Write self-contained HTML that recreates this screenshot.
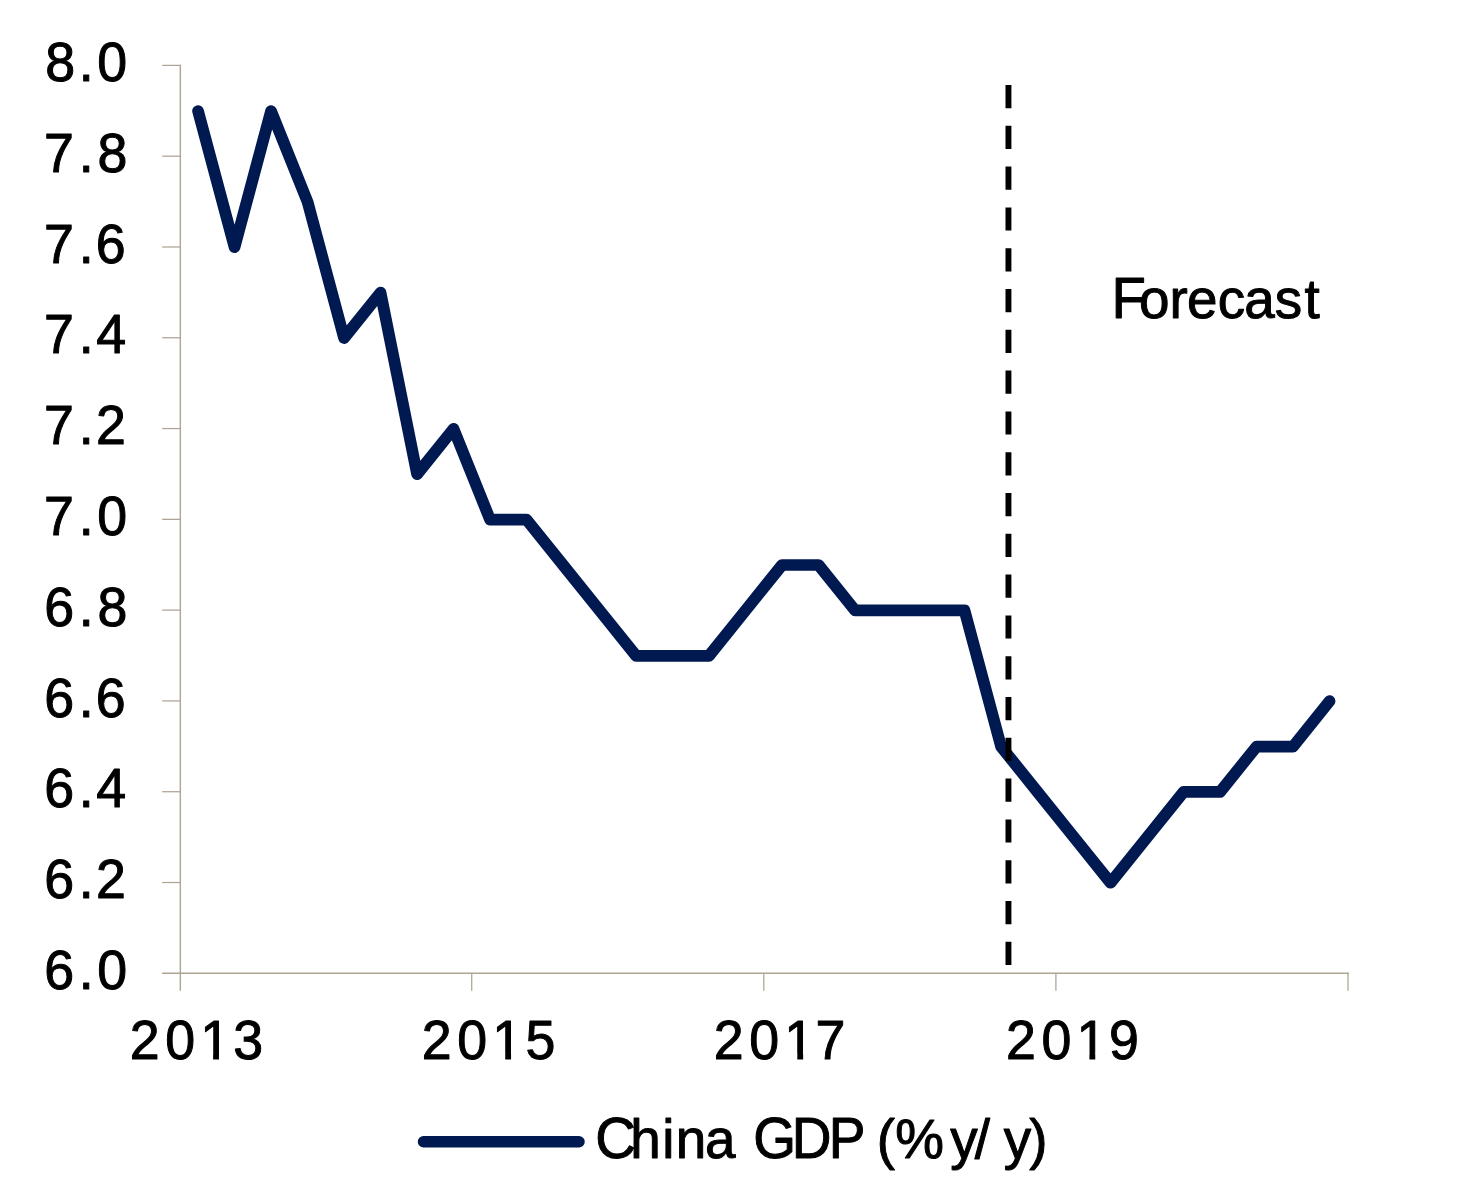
<!DOCTYPE html>
<html lang="en"><head><meta charset="utf-8"><title>China GDP (% y/y)</title>
<style>
html,body{margin:0;padding:0;background:#fff;}
body{width:1467px;height:1200px;overflow:hidden;}
svg{display:block;}
text{font-family:"Liberation Sans",Arial,sans-serif;fill:#000;stroke:#000;stroke-width:1.0px;stroke-linejoin:round;}
</style></head><body>
<svg width="1467" height="1200" viewBox="0 0 1467 1200">
<rect width="1467" height="1200" fill="#fff"/>

<g stroke="#ada493" fill="none">
<line x1="180.33" y1="64.80" x2="180.33" y2="990.8" stroke-width="1.4"/>
<line x1="162.2" y1="973.3" x2="1348.9" y2="973.3" stroke-width="1.5"/>
<line x1="162.2" y1="65.40" x2="180.3" y2="65.40" stroke-width="1.25"/>
<line x1="162.2" y1="156.19" x2="180.3" y2="156.19" stroke-width="1.25"/>
<line x1="162.2" y1="246.98" x2="180.3" y2="246.98" stroke-width="1.25"/>
<line x1="162.2" y1="337.77" x2="180.3" y2="337.77" stroke-width="1.25"/>
<line x1="162.2" y1="428.56" x2="180.3" y2="428.56" stroke-width="1.25"/>
<line x1="162.2" y1="519.35" x2="180.3" y2="519.35" stroke-width="1.25"/>
<line x1="162.2" y1="610.14" x2="180.3" y2="610.14" stroke-width="1.25"/>
<line x1="162.2" y1="700.93" x2="180.3" y2="700.93" stroke-width="1.25"/>
<line x1="162.2" y1="791.72" x2="180.3" y2="791.72" stroke-width="1.25"/>
<line x1="162.2" y1="882.51" x2="180.3" y2="882.51" stroke-width="1.25"/>
<line x1="471.70" y1="973.3" x2="471.70" y2="990.8" stroke-width="1.25"/>
<line x1="763.80" y1="973.3" x2="763.80" y2="990.8" stroke-width="1.25"/>
<line x1="1055.90" y1="973.3" x2="1055.90" y2="990.8" stroke-width="1.25"/>
<line x1="1348.00" y1="973.3" x2="1348.00" y2="990.8" stroke-width="1.25"/>
</g>
<text class="yl" transform="translate(0,81.0) scale(0.977,1)" y="0"><tspan x="46.43 80.65 99.59" font-size="55">8.0</tspan></text>
<text class="yl" transform="translate(0,171.8) scale(0.977,1)" y="0"><tspan x="45.13 80.65 99.76" font-size="55">7.8</tspan></text>
<text class="yl" transform="translate(0,262.6) scale(0.977,1)" y="0"><tspan x="45.13 80.65 98.03" font-size="55">7.6</tspan></text>
<text class="yl" transform="translate(0,353.4) scale(0.977,1)" y="0"><tspan x="45.13 80.65 98.43" font-size="55">7.4</tspan></text>
<text class="yl" transform="translate(0,444.2) scale(0.977,1)" y="0"><tspan x="45.13 80.65 98.16" font-size="55">7.2</tspan></text>
<text class="yl" transform="translate(0,535.0) scale(0.977,1)" y="0"><tspan x="45.13 80.65 99.59" font-size="55">7.0</tspan></text>
<text class="yl" transform="translate(0,625.7) scale(0.977,1)" y="0"><tspan x="45.21 80.65 99.76" font-size="55">6.8</tspan></text>
<text class="yl" transform="translate(0,716.5) scale(0.977,1)" y="0"><tspan x="45.21 80.65 98.03" font-size="55">6.6</tspan></text>
<text class="yl" transform="translate(0,807.3) scale(0.977,1)" y="0"><tspan x="45.21 80.65 98.43" font-size="55">6.4</tspan></text>
<text class="yl" transform="translate(0,898.1) scale(0.977,1)" y="0"><tspan x="45.21 80.65 98.16" font-size="55">6.2</tspan></text>
<text class="yl" transform="translate(0,988.9) scale(0.977,1)" y="0"><tspan x="45.21 80.65 99.59" font-size="55">6.0</tspan></text>
<text class="xl" transform="translate(0,1059.3) scale(0.977,1)" y="0"><tspan x="132.70 169.04 204.86 238.64" font-size="55">2013</tspan></text>
<rect x="202.24" y="1053.6" width="10.87" height="8" fill="#fff"/>
<rect x="218.96" y="1053.6" width="10.50" height="8" fill="#fff"/>
<text class="xl" transform="translate(0,1059.3) scale(0.977,1)" y="0"><tspan x="431.68 468.02 503.84 537.77" font-size="55">2015</tspan></text>
<rect x="494.34" y="1053.6" width="10.87" height="8" fill="#fff"/>
<rect x="511.06" y="1053.6" width="10.50" height="8" fill="#fff"/>
<text class="xl" transform="translate(0,1059.3) scale(0.977,1)" y="0"><tspan x="730.65 766.99 802.81 834.80" font-size="55">2017</tspan></text>
<rect x="786.44" y="1053.6" width="10.87" height="8" fill="#fff"/>
<rect x="803.16" y="1053.6" width="10.50" height="8" fill="#fff"/>
<text class="xl" transform="translate(0,1059.3) scale(0.977,1)" y="0"><tspan x="1029.63 1065.97 1101.79 1135.14" font-size="55">2019</tspan></text>
<rect x="1078.54" y="1053.6" width="10.87" height="8" fill="#fff"/>
<rect x="1095.26" y="1053.6" width="10.50" height="8" fill="#fff"/>
<polyline points="198.05,111.04 234.55,247.23 271.05,111.04 307.55,201.83 344.05,338.02 380.55,292.62 417.05,474.21 453.55,428.81 490.05,519.60 526.55,519.60 563.05,564.99 599.55,610.39 636.05,655.78 672.55,655.78 709.05,655.78 745.55,610.39 782.05,564.99 818.55,564.99 855.05,610.39 891.55,610.39 928.05,610.39 964.55,610.39 1001.05,746.57 1037.55,791.97 1074.05,837.37 1110.55,882.76 1147.05,837.37 1183.55,791.97 1220.05,791.97 1256.55,746.57 1293.05,746.57 1329.55,701.18" fill="none" stroke="#001950" stroke-width="11.7" stroke-linecap="round" stroke-linejoin="round"/>
<line x1="1008.45" y1="85" x2="1008.45" y2="965.6" stroke="#000" stroke-width="5.9" stroke-dasharray="23.2 17.6"/>
<text class="lg" transform="translate(0,318.3) scale(0.98,1)" y="0"><tspan x="1134.26" font-size="57.5">F</tspan><tspan x="1162.14 1193.43 1211.30 1242.52 1269.67 1300.89 1331.19" font-size="55.9">orecast</tspan></text>
<line x1="423.5" y1="1141.8" x2="579" y2="1141.8" stroke="#001950" stroke-width="11.5" stroke-linecap="round"/>
<text class="lg" transform="translate(0,1157.8) scale(0.98,1)" y="0"><tspan x="607.39" font-size="57.5">C</tspan><tspan x="643.16 675.65 689.55 719.46" font-size="55.9">hina</tspan></text>
<text class="lg" transform="translate(0,1157.8) scale(0.957,1)" y="0"><tspan x="786.97 827.26 866.03" font-size="57.5">GDP</tspan></text>
<text class="lg" transform="translate(0,1157.8) scale(0.98,1)" y="0"><tspan x="894.70 913.42 969.76 994.69" font-size="55.9">(%y/</tspan></text>
<text class="lg" transform="translate(0,1157.8) scale(0.98,1)" y="0"><tspan x="1024.25 1050.18" font-size="55.9">y)</tspan></text>
</svg></body></html>
